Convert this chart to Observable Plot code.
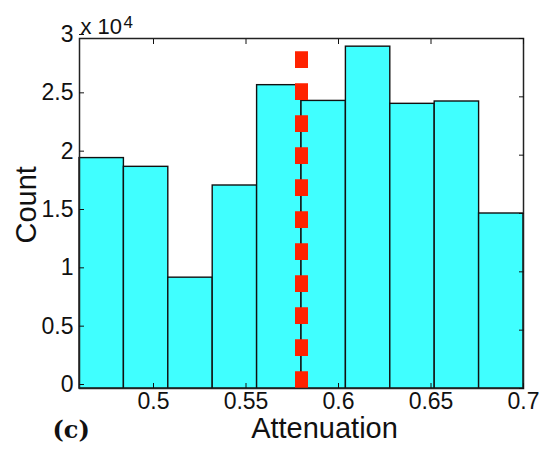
<!DOCTYPE html>
<html><head><meta charset="utf-8">
<script src="https://cdn.jsdelivr.net/npm/d3@7"></script>
<script src="https://cdn.jsdelivr.net/npm/@observablehq/plot@0.6"></script>
<style>html,body{margin:0;padding:0;background:#fff;} svg{display:block}</style>
</head><body><div id="chart"></div>
<script>
// Histogram bins (attenuation) and counts
const binStarts = [0.46, 0.484, 0.508, 0.532, 0.556, 0.58, 0.604, 0.628, 0.652, 0.676];
const binEnds   = [0.484, 0.508, 0.532, 0.556, 0.58, 0.604, 0.628, 0.652, 0.676, 0.70];
const counts    = [19750, 19000, 9500, 17400, 26000, 24650, 29300, 24400, 24600, 15000];

// Threshold marker (red dashed line)
const thresholdX = [0.58];
const thresholdTop = 28900;

// Axis ticks
const xTicks = [0.5, 0.55, 0.6, 0.65, 0.7];
const xTickLabels = ["0.5", "0.55", "0.6", "0.65", "0.7"];
const yTicks = [0, 5000, 10000, 15000, 20000, 25000, 30000];
const yTickLabels = ["0", "0.5", "1", "1.5", "2", "2.5", "3"];

const bins = binStarts.map((s, i) => ({x1: s, x2: binEnds[i], y: counts[i]}));
const xFmt = d => xTickLabels[xTicks.indexOf(d)];
const yFmt = d => yTickLabels[yTicks.indexOf(d)];
const font = "'Liberation Sans', Arial, Helvetica, sans-serif";

const chart = Plot.plot({
  width: 544,
  height: 456,
  marginLeft: 79,
  marginRight: 21,
  marginTop: 38,
  marginBottom: 68,
  style: {fontFamily: font, background: "#fff", color: "#111"},
  x: {domain: [0.46, 0.70]},
  y: {domain: [0, 30000]},
  marks: [
    Plot.rectY(bins, {x1: "x1", x2: "x2", y: "y", fill: "#40ffff", stroke: "#111", strokeWidth: 1.4}),
    Plot.ruleX(thresholdX, {y1: 0, y2: thresholdTop, stroke: "#ff2200", strokeWidth: 13, strokeDasharray: "16.7,15.3"}),
    Plot.frame({stroke: "#222", strokeWidth: 1.5}),
    Plot.axisX(xTicks, {anchor: "bottom", tickSize: -5, tickPadding: 9, tickFormat: xFmt, fontSize: 23, label: null}),
    Plot.axisX(xTicks, {anchor: "top", tickSize: -5, tickFormat: () => "", label: null}),
    Plot.axisY(yTicks, {anchor: "left", tickSize: -5, tickPadding: 11, tickFormat: yFmt, fontSize: 23, dy: -4, label: null}),
    Plot.axisY(yTicks, {anchor: "right", tickSize: -5, tickFormat: () => "", label: null}),
    Plot.text(["Attenuation"], {frameAnchor: "bottom", dx: 23, dy: 49, fontSize: 29, fill: "#111"}),
    Plot.text(["Count"], {frameAnchor: "left", rotate: -90, dx: -53, dy: 30, fontSize: 29, fill: "#111"}),
    Plot.text(["(c)"], {frameAnchor: "bottom-left", textAnchor: "start", dx: -27, dy: 49, fontSize: 24, fontWeight: "bold", fontFamily: "'DejaVu Serif', serif", fill: "#111"}),
    Plot.text(["x 10"], {frameAnchor: "top-left", lineAnchor: "bottom", textAnchor: "start", dx: 1, dy: -5, fontSize: 22, fill: "#111"}),
    Plot.text(["4"], {frameAnchor: "top-left", lineAnchor: "bottom", textAnchor: "start", dx: 44, dy: -11, fontSize: 17, fill: "#111"})
  ]
});
document.getElementById("chart").appendChild(chart);
</script>
</body></html>
